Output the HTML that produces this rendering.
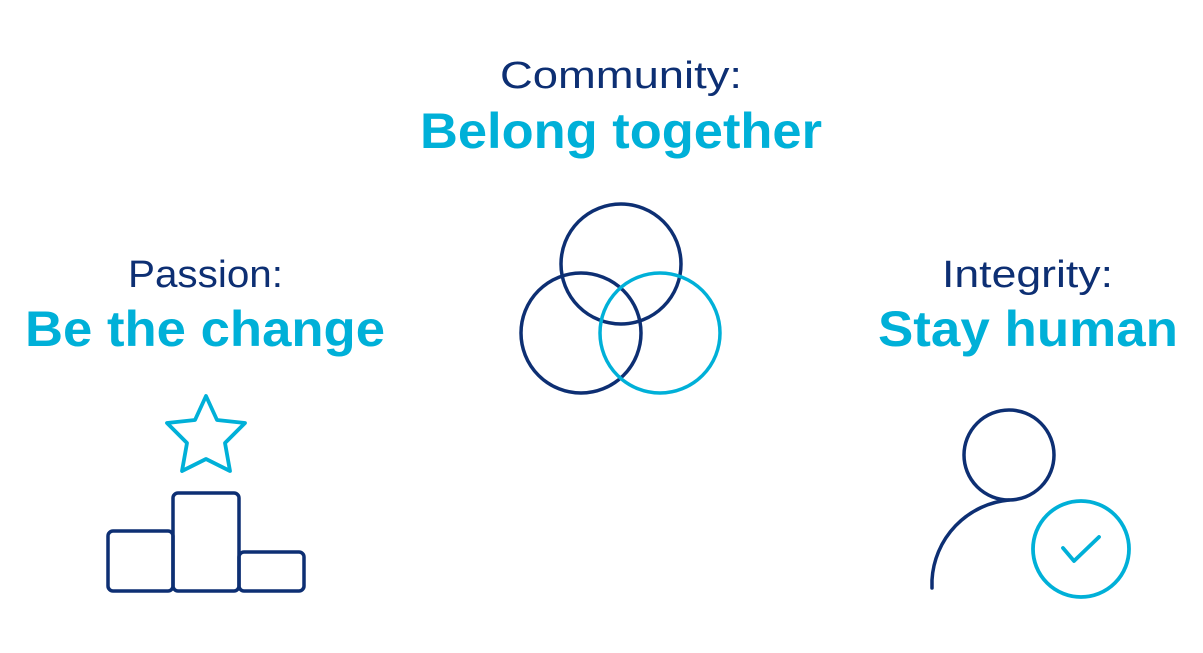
<!DOCTYPE html>
<html><head><style>html,body{margin:0;padding:0;background:#fff;}svg{display:block}</style></head>
<body>
<svg width="1203" height="653" viewBox="0 0 1203 653" xmlns="http://www.w3.org/2000/svg" font-family="'Liberation Sans', sans-serif">
<g fill="#0d2f73" font-size="38" text-anchor="start">
<text x="500" y="88" textLength="242" lengthAdjust="spacingAndGlyphs">Community:</text>
<text x="128" y="287" textLength="155" lengthAdjust="spacingAndGlyphs">Passion:</text>
<text x="942" y="287" textLength="171" lengthAdjust="spacingAndGlyphs">Integrity:</text>
</g>
<g fill="#00b0d8" font-size="50" font-weight="bold">
<text x="420" y="148" textLength="402" lengthAdjust="spacingAndGlyphs">Belong together</text>
<text x="25" y="346" textLength="360" lengthAdjust="spacingAndGlyphs">Be the change</text>
<text x="878" y="346" textLength="300" lengthAdjust="spacingAndGlyphs">Stay human</text>
</g>
<g fill="none" stroke-width="3.5" stroke-linejoin="round" stroke-linecap="round">
<circle cx="621" cy="264" r="60" stroke="#0d2f73"/>
<circle cx="581" cy="333" r="60" stroke="#0d2f73"/>
<circle cx="660" cy="333" r="60" stroke="#00b0d8"/>
<g stroke="#0d2f73">
<rect x="108" y="531" width="65" height="60" rx="5"/>
<rect x="173" y="493" width="66" height="98" rx="5"/>
<rect x="239" y="552" width="65" height="39" rx="5"/>
<circle cx="1009" cy="455" r="45"/>
<path d="M932 588 L932 580 A85 85 0 0 1 1009 500"/>
</g>
<g stroke="#00b0d8" stroke-width="3.8">
<path d="M206 396 L217 420 L245 423 L225 443 L230 471 L206 459 L182 471 L187 443 L167 423 L195 420 Z"/>
<circle cx="1081" cy="549" r="48"/>
<path d="M1063 548 L1074 561 L1099 537"/>
</g>
</g>
</svg>
</body></html>
